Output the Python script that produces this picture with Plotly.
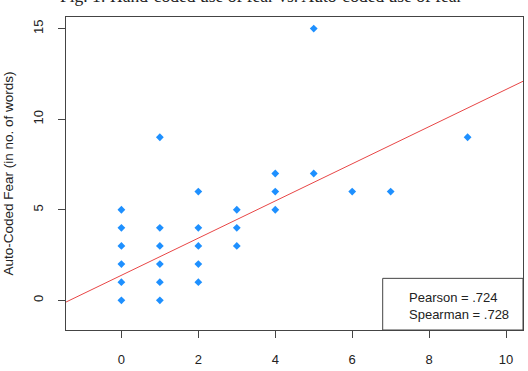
import plotly.graph_objects as go

# Data
hand_coded = [0, 0, 0, 0, 0, 0,
              1, 1, 1, 1, 1, 1,
              2, 2, 2, 2, 2,
              3, 3, 3,
              4, 4, 4,
              5, 5,
              6, 7, 9]
auto_coded = [0, 1, 2, 3, 4, 5,
              0, 1, 2, 3, 4, 9,
              1, 2, 3, 4, 6,
              3, 4, 5,
              5, 6, 7,
              7, 15,
              6, 6, 9]
fit_intercept = 1.38
fit_slope = 1.026
pearson_label = "Pearson = .724"
spearman_label = "Spearman = .728"
x_ticks = [0, 2, 4, 6, 8, 10]
y_ticks = [0, 5, 10, 15]
x_range = [-1.44, 10.44]
y_range = [-1.64, 15.64]

fit_x = x_range
fit_y = [fit_intercept + fit_slope * v for v in fit_x]

fig = go.Figure()
fig.add_trace(go.Scatter(
    x=fit_x, y=fit_y, mode="lines",
    line=dict(color="rgb(232,70,70)", width=1),
    hoverinfo="skip", cliponaxis=True))
fig.add_trace(go.Scatter(
    x=hand_coded, y=auto_coded, mode="markers",
    marker=dict(symbol="diamond", size=6, color="#1E90FF", line=dict(width=0))))

axis_font = dict(family="Liberation Sans, Arial, sans-serif", size=13, color="#222")

fig.update_layout(
    width=528, height=371,
    margin=dict(l=65.5, r=5, t=17, b=41),
    paper_bgcolor="white", plot_bgcolor="white",
    showlegend=False,
    font=axis_font,
    xaxis=dict(range=x_range, tickvals=x_ticks, showgrid=False, zeroline=False,
               showline=True, mirror=True, linecolor="#444", linewidth=1,
               ticks="outside", ticklen=7, tickcolor="#444",
               ticklabelstandoff=10, tickfont=axis_font),
    yaxis=dict(range=y_range, tickvals=y_ticks, showgrid=False, zeroline=False,
               showline=True, mirror=True, linecolor="#444", linewidth=1,
               ticks="outside", ticklen=7, tickcolor="#444",
               tickangle=-90, ticklabelstandoff=10, tickfont=axis_font,
               title=dict(text="Auto-Coded Fear (in no. of words)",
                          font=dict(family="Liberation Sans, Arial, sans-serif", size=13.5, color="#222"),
                          standoff=14)),
)

# Legend box in the lower right corner
fig.add_shape(type="rect", xref="paper", yref="paper",
              x0=0.693, x1=1.0, y0=0.0, y1=0.165,
              line=dict(color="#444", width=1), fillcolor="white", layer="above")
fig.add_annotation(xref="paper", yref="paper", x=0.747, y=0.105,
                   text=pearson_label, showarrow=False, xanchor="left", yanchor="middle",
                   font=dict(family="Liberation Sans, Arial, sans-serif", size=13, color="#222"))
fig.add_annotation(xref="paper", yref="paper", x=0.747, y=0.051,
                   text=spearman_label, showarrow=False, xanchor="left", yanchor="middle",
                   font=dict(family="Liberation Sans, Arial, sans-serif", size=13, color="#222"))

# Caption partly cut off at the top of the picture
fig.add_annotation(xref="paper", yref="paper", x=0.428, y=1.029,
                   text="Fig. 1: Hand-coded use of fear vs. Auto-coded use of fear",
                   showarrow=False, xanchor="center", yanchor="bottom",
                   font=dict(family="Liberation Serif, DejaVu Serif, serif", size=17.5, color="#222"))

fig.write_html("out.html")
